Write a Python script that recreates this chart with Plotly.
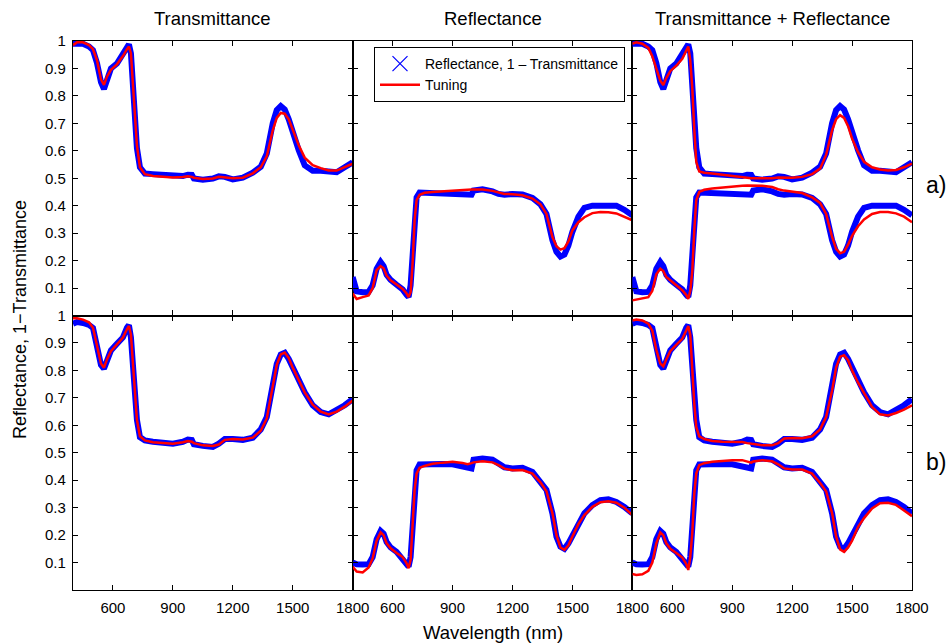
import plotly.graph_objects as go
from plotly.subplots import make_subplots

wavelength = [400, 420, 450, 480, 500, 520, 540, 555, 570, 590, 620, 650, 670, 680, 690, 700, 710, 720, 735, 760,
              800, 850, 900, 950, 975, 995, 1005, 1050, 1100, 1130, 1160, 1200, 1250, 1300, 1340, 1370, 1400, 1420,
              1440, 1460, 1480, 1500, 1530, 1560, 1600, 1640, 1680, 1720, 1760, 1800]

# ---- row a) ----
T_meas_a = [0.99, 0.99, 0.99, 0.98, 0.967, 0.92, 0.85, 0.825, 0.865, 0.90, 0.918, 0.95, 0.975, 0.988, 0.955, 0.83,
            0.70, 0.61, 0.54, 0.517, 0.515, 0.512, 0.508, 0.508, 0.513, 0.512, 0.499, 0.495, 0.499, 0.507, 0.505,
            0.496, 0.502, 0.52, 0.542, 0.59, 0.70, 0.748, 0.763, 0.75, 0.715, 0.665, 0.602, 0.547, 0.527, 0.527,
            0.522, 0.522, 0.54, 0.558]
T_fit_a = [0.985, 0.995, 0.995, 0.985, 0.97, 0.93, 0.86, 0.84, 0.87, 0.895, 0.915, 0.945, 0.97, 0.98, 0.955, 0.84,
           0.72, 0.62, 0.54, 0.515, 0.508, 0.505, 0.503, 0.505, 0.507, 0.505, 0.502, 0.497, 0.499, 0.505, 0.503,
           0.5, 0.502, 0.518, 0.54, 0.58, 0.675, 0.72, 0.738, 0.735, 0.715, 0.675, 0.62, 0.575, 0.548, 0.537,
           0.528, 0.528, 0.54, 0.553]
R_meas_a = [0.14, 0.088, 0.085, 0.086, 0.11, 0.17, 0.195, 0.18, 0.148, 0.13, 0.112, 0.095, 0.075, 0.067, 0.11, 0.25,
            0.38, 0.43, 0.448, 0.447, 0.446, 0.446, 0.444, 0.44, 0.437, 0.44, 0.455, 0.46, 0.452, 0.443, 0.44,
            0.443, 0.441, 0.428, 0.405, 0.37, 0.274, 0.232, 0.215, 0.222, 0.255, 0.305, 0.36, 0.392, 0.40, 0.40,
            0.398, 0.40, 0.385, 0.365]
R_fit_a = [0.08, 0.06, 0.067, 0.073, 0.10, 0.165, 0.18, 0.172, 0.145, 0.128, 0.113, 0.097, 0.08, 0.067, 0.085, 0.19,
           0.347, 0.42, 0.44, 0.447, 0.45, 0.453, 0.456, 0.457, 0.458, 0.459, 0.459, 0.459, 0.454, 0.448, 0.443,
           0.442, 0.438, 0.426, 0.405, 0.37, 0.286, 0.252, 0.24, 0.245, 0.27, 0.31, 0.34, 0.358, 0.373, 0.377,
           0.376, 0.372, 0.36, 0.347]
T_fit_a_joint = [0.99, 0.995, 0.99, 0.975, 0.945, 0.90, 0.855, 0.84, 0.865, 0.89, 0.91, 0.935, 0.965, 0.98, 0.93,
                 0.83, 0.68, 0.56, 0.525, 0.52, 0.517, 0.512, 0.508, 0.504, 0.502, 0.5, 0.5, 0.5, 0.5, 0.503, 0.503,
                 0.502, 0.505, 0.515, 0.535, 0.585, 0.675, 0.715, 0.73, 0.72, 0.69, 0.645, 0.595, 0.56, 0.54, 0.532,
                 0.528, 0.53, 0.54, 0.553]
R_fit_a_joint = [0.055, 0.058, 0.06, 0.067, 0.09, 0.15, 0.17, 0.162, 0.14, 0.128, 0.11, 0.092, 0.075, 0.06, 0.09,
                 0.16, 0.31, 0.42, 0.45, 0.458, 0.463, 0.467, 0.47, 0.473, 0.474, 0.474, 0.474, 0.473, 0.468, 0.46,
                 0.455, 0.45, 0.446, 0.43, 0.41, 0.37, 0.286, 0.243, 0.227, 0.232, 0.258, 0.29, 0.325, 0.35, 0.37,
                 0.377, 0.377, 0.372, 0.36, 0.34]

# ---- row b) ----
T_meas_b = [0.97, 0.976, 0.973, 0.966, 0.955, 0.89, 0.82, 0.806, 0.84, 0.873, 0.897, 0.92, 0.955, 0.965, 0.92, 0.81,
            0.70, 0.62, 0.557, 0.545, 0.54, 0.535, 0.533, 0.54, 0.548, 0.546, 0.531, 0.525, 0.521, 0.533, 0.55,
            0.55, 0.547, 0.555, 0.585, 0.63, 0.75, 0.824, 0.858, 0.864, 0.842, 0.81, 0.765, 0.72, 0.673, 0.648,
            0.64, 0.655, 0.673, 0.695]
T_fit_b = [0.99, 0.99, 0.985, 0.975, 0.955, 0.895, 0.825, 0.81, 0.84, 0.87, 0.895, 0.92, 0.95, 0.962, 0.93, 0.82,
           0.70, 0.62, 0.56, 0.545, 0.538, 0.535, 0.533, 0.538, 0.543, 0.54, 0.535, 0.527, 0.525, 0.53, 0.547,
           0.55, 0.548, 0.555, 0.58, 0.625, 0.74, 0.82, 0.858, 0.865, 0.845, 0.81, 0.765, 0.72, 0.675, 0.65,
           0.64, 0.65, 0.668, 0.69]
R_meas_b = [0.1, 0.094, 0.093, 0.094, 0.12, 0.185, 0.215, 0.205, 0.175, 0.155, 0.139, 0.115, 0.097, 0.085, 0.12,
            0.255, 0.376, 0.436, 0.457, 0.458, 0.458, 0.459, 0.458, 0.452, 0.446, 0.443, 0.475, 0.479, 0.475,
            0.462, 0.447, 0.443, 0.445, 0.43, 0.395, 0.365, 0.279, 0.194, 0.158, 0.15, 0.17, 0.2, 0.245, 0.279,
            0.309, 0.327, 0.33, 0.321, 0.303, 0.279]
R_fit_b = [0.085, 0.067, 0.064, 0.082, 0.115, 0.18, 0.21, 0.2, 0.17, 0.152, 0.135, 0.12, 0.097, 0.079, 0.11, 0.23,
           0.364, 0.424, 0.445, 0.452, 0.46, 0.464, 0.467, 0.463, 0.458, 0.462, 0.465, 0.469, 0.465, 0.455, 0.442,
           0.436, 0.437, 0.424, 0.392, 0.36, 0.28, 0.2, 0.155, 0.146, 0.163, 0.195, 0.24, 0.273, 0.303, 0.32,
           0.323, 0.318, 0.3, 0.273]
T_fit_b_joint = [0.982, 0.985, 0.982, 0.97, 0.945, 0.875, 0.825, 0.815, 0.84, 0.87, 0.893, 0.915, 0.945, 0.962,
                 0.93, 0.80, 0.68, 0.594, 0.56, 0.55, 0.543, 0.54, 0.539, 0.539, 0.535, 0.533, 0.533, 0.527, 0.527,
                 0.535, 0.552, 0.554, 0.553, 0.56, 0.585, 0.63, 0.727, 0.81, 0.85, 0.855, 0.837, 0.80, 0.755,
                 0.715, 0.667, 0.64, 0.636, 0.645, 0.657, 0.673]
R_fit_b_joint = [0.058, 0.055, 0.057, 0.07, 0.1, 0.17, 0.21, 0.2, 0.17, 0.15, 0.135, 0.118, 0.095, 0.073, 0.12,
                 0.206, 0.35, 0.424, 0.455, 0.462, 0.467, 0.47, 0.473, 0.473, 0.468, 0.464, 0.468, 0.473, 0.469,
                 0.458, 0.443, 0.439, 0.439, 0.424, 0.39, 0.36, 0.28, 0.195, 0.148, 0.139, 0.155, 0.18, 0.23,
                 0.262, 0.297, 0.316, 0.318, 0.31, 0.29, 0.269]

col_titles = ["Transmittance", "Reflectance", "Transmittance + Reflectance"]
row_labels = ["a)", "b)"]
legend_names = ["Reflectance, 1 \u2013 Transmittance", "Tuning"]
x_tickvals = [600, 900, 1200, 1500, 1800]
y_tickvals = [0.1, 0.2, 0.3, 0.4, 0.5, 0.6, 0.7, 0.8, 0.9, 1.0]
y_ticktext = ["0.1", "0.2", "0.3", "0.4", "0.5", "0.6", "0.7", "0.8", "0.9", "1"]

BLUE = "#0000ff"
RED = "#ff0000"
FONT = "Liberation Sans, Arial, Helvetica, sans-serif"

panels = {
    (1, 1): ([T_meas_a], [T_fit_a]),
    (1, 2): ([R_meas_a], [R_fit_a]),
    (1, 3): ([T_meas_a, R_meas_a], [T_fit_a_joint, R_fit_a_joint]),
    (2, 1): ([T_meas_b], [T_fit_b]),
    (2, 2): ([R_meas_b], [R_fit_b]),
    (2, 3): ([T_meas_b, R_meas_b], [T_fit_b_joint, R_fit_b_joint]),
}

fig = make_subplots(rows=2, cols=3, horizontal_spacing=0, vertical_spacing=0)

for (r, c), (meas, fits) in panels.items():
    for m in meas:
        fig.add_trace(go.Scatter(x=wavelength, y=m, mode="lines",
                                 line=dict(color=BLUE, width=6), showlegend=False,
                                 hoverinfo="skip"), row=r, col=c)
    for f in fits:
        fig.add_trace(go.Scatter(x=wavelength, y=f, mode="lines",
                                 line=dict(color=RED, width=2.5), showlegend=False,
                                 hoverinfo="skip"), row=r, col=c)

# legend entries
fig.add_trace(go.Scatter(x=[None], y=[None], mode="markers", name=legend_names[0],
                         marker=dict(symbol="x-thin-open", size=15, color=BLUE,
                                     line=dict(color=BLUE, width=1.2))), row=1, col=2)
fig.add_trace(go.Scatter(x=[None], y=[None], mode="lines", name=legend_names[1],
                         line=dict(color=RED, width=2.5)), row=1, col=2)

TICKFONT = dict(family=FONT, size=15, color="black")
for r in (1, 2):
    for c in (1, 2, 3):
        fig.update_xaxes(range=[400, 1800], tickvals=x_tickvals, ticks="inside", ticklen=5,
                         tickcolor="black", showline=True, linecolor="black", linewidth=1.3,
                         mirror="ticks", showgrid=False, zeroline=False,
                         showticklabels=(r == 2), ticklabelstandoff=4,
                         tickfont=TICKFONT, row=r, col=c)
        fig.update_yaxes(range=[0, 1], tickvals=y_tickvals, ticktext=y_ticktext, ticks="inside",
                         ticklen=5, tickcolor="black", showline=True, linecolor="black", linewidth=1.3,
                         mirror="ticks", showgrid=False, zeroline=False,
                         showticklabels=(c == 1), ticklabelstandoff=3,
                         tickfont=TICKFONT, row=r, col=c)

annotations = []
for i, t in enumerate(col_titles):
    annotations.append(dict(text=t, x=(i + 0.5) / 3, y=(590 - 18) / 549, xref="paper", yref="paper",
                            xanchor="center", yanchor="middle", showarrow=False,
                            font=dict(family=FONT, size=18.5, color="black")))
annotations.append(dict(text=row_labels[0], x=(924 - 73) / 839, y=(590 - 185) / 549, xref="paper",
                        yref="paper", xanchor="left", yanchor="middle",
                        showarrow=False, font=dict(family=FONT, size=23, color="black")))
annotations.append(dict(text=row_labels[1], x=(924 - 73) / 839, y=(590 - 462) / 549, xref="paper",
                        yref="paper", xanchor="left", yanchor="middle",
                        showarrow=False, font=dict(family=FONT, size=23, color="black")))
annotations.append(dict(text="Reflectance, 1\u2212Transmittance", x=(20 - 73) / 839, y=(590 - 320) / 549,
                        xref="paper", yref="paper", xanchor="center", yanchor="middle",
                        textangle=-90, showarrow=False,
                        font=dict(family=FONT, size=18, color="black")))
annotations.append(dict(text="Wavelength (nm)", x=0.5, y=(590 - 632) / 549, xref="paper", yref="paper",
                        xanchor="center", yanchor="middle", showarrow=False,
                        font=dict(family=FONT, size=18.5, color="black")))

fig.update_layout(
    width=949, height=643,
    margin=dict(l=73, r=37, t=41, b=53),
    paper_bgcolor="white", plot_bgcolor="white",
    annotations=annotations,
    showlegend=True,
    legend=dict(x=(374 - 73) / 839, y=(590 - 47) / 549, xanchor="left", yanchor="top", bgcolor="white",
                bordercolor="black", borderwidth=1, tracegroupgap=0,
                font=dict(family=FONT, size=14, color="black"), itemwidth=40),
    font=dict(family=FONT, color="black"),
)

fig.write_html("out.html")
